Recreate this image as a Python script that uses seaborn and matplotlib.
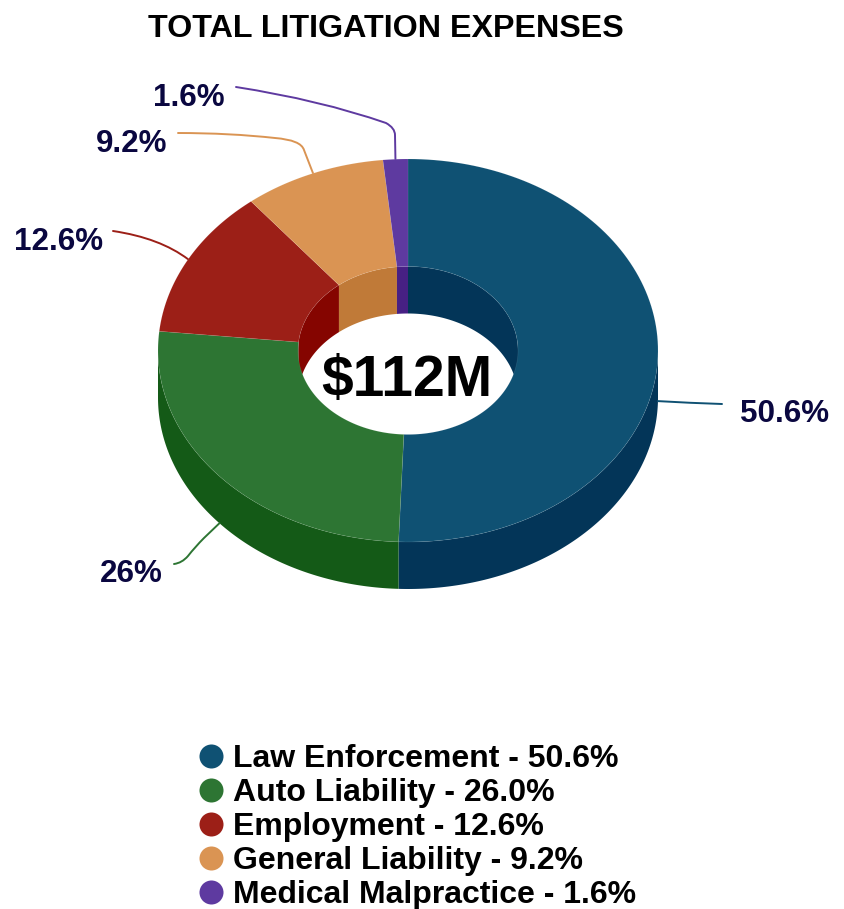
import numpy as np
import matplotlib
matplotlib.use('Agg')
import matplotlib.pyplot as plt
import seaborn as sns
from matplotlib.lines import Line2D
from matplotlib.patches import PathPatch, Polygon
from matplotlib.path import Path

# chart data
categories = ['Law Enforcement', 'Auto Liability', 'Employment', 'General Liability', 'Medical Malpractice']
shares = [50.6, 26.0, 12.6, 9.2, 1.6]
slice_labels = ['50.6%', '26%', '12.6%', '9.2%', '1.6%']
legend_values = ['50.6%', '26.0%', '12.6%', '9.2%', '1.6%']
total_label = '$112M'
chart_title = 'TOTAL LITIGATION EXPENSES'

top_colors = ['#0F5173', '#2D7533', '#9C1F17', '#DA9453', '#5E3AA0']
wall_colors = ['#033558', '#145A17', '#850500', '#C07A38', '#472084']
text_navy = '#0A0740'

# donut geometry, in pixels of the picture
cx, cy = 408, 350.5
outer_rx, outer_ry = 250, 191.5
inner_rx, inner_ry = 110, 84
depth = 47

# where the outside labels sit (right/left aligned anchor)
label_pos = [(740, 414, 'left'), (163, 574, 'right'), (103, 241.5, 'right'),
             (167, 144.5, 'right'), (225, 97.5, 'right')]

# leader line pieces after the anchor point: (code, x, y)
L, C = Path.LINETO, Path.CURVE3
leader_steps = [
    [(C, 690, 403), (C, 722, 404)],
    [(L, 204, 538), (C, 195, 547), (C, 188, 556), (C, 182, 563), (C, 174, 564)],
    [(C, 160, 238), (C, 113, 231)],
    [(L, 304, 150), (C, 301, 140), (C, 275, 138), (C, 230, 133), (C, 178, 133)],
    [(L, 395, 135), (C, 395, 128), (C, 386, 123), (C, 320, 100), (C, 236, 87)],
]

sns.set_theme(style='white')
plt.rcParams['font.family'] = ['Liberation Sans', 'DejaVu Sans']
plt.rcParams['font.weight'] = 'bold'
palette = sns.color_palette(top_colors)


def rim(theta, rx, ry, drop=0):
    return np.column_stack([cx + rx * np.sin(theta), cy + drop - ry * np.cos(theta)])


def band(t0, t1, rx0, ry0, drop0, rx1, ry1, drop1):
    t = np.linspace(t0, t1, 120)
    return np.vstack([rim(t, rx0, ry0, drop0), rim(t[::-1], rx1, ry1, drop1)])


fig, ax = plt.subplots(figsize=(8.45, 9.09), dpi=100)
fig.subplots_adjust(left=0, right=1, bottom=0, top=1)
ax.set_xlim(0, 845)
ax.set_ylim(909, 0)
ax.axis('off')

edges = np.cumsum([0] + shares) / 100 * 2 * np.pi
seam = (1, 1, 1, 0.1)

# outside wall, front half only
for i in range(len(shares)):
    t0, t1 = max(edges[i], np.pi / 2), min(edges[i + 1], 3 * np.pi / 2)
    if t1 > t0:
        ax.add_patch(Polygon(band(t0, t1, outer_rx, outer_ry, 0, outer_rx, outer_ry, depth),
                             facecolor=wall_colors[i], edgecolor='none', zorder=1))

# inside wall of the hole, back half only
for i in range(len(shares)):
    for lo, hi in [(0, np.pi / 2), (3 * np.pi / 2, 2 * np.pi)]:
        t0, t1 = max(edges[i], lo), min(edges[i + 1], hi)
        if t1 > t0:
            ax.add_patch(Polygon(band(t0, t1, inner_rx, inner_ry, 0, inner_rx, inner_ry, depth),
                                 facecolor=wall_colors[i], edgecolor='none', zorder=2))

# top face
for i in range(len(shares)):
    ax.add_patch(Polygon(band(edges[i], edges[i + 1], outer_rx, outer_ry, 0, inner_rx, inner_ry, 0),
                         facecolor=palette[i], edgecolor=seam, linewidth=0.5, zorder=3))

# leaders and outside labels
for i, steps in enumerate(leader_steps):
    mid = (edges[i] + edges[i + 1]) / 2
    drop = depth if np.pi / 2 < mid < 3 * np.pi / 2 else 0
    start = rim(np.array([mid]), outer_rx, outer_ry, drop)[0]
    verts = [tuple(start)] + [(x, y) for _, x, y in steps]
    codes = [Path.MOVETO] + [c for c, _, _ in steps]
    ax.add_patch(PathPatch(Path(verts, codes), facecolor='none', edgecolor=palette[i],
                           linewidth=1.4, capstyle='round', zorder=2))
    x, y, ha = label_pos[i]
    ax.text(x, y, slice_labels[i], ha=ha, va='center', fontsize=22.6, color=text_navy, zorder=5)

ax.text(cx - 1, 381, total_label, ha='center', va='center', fontsize=41, color='black', zorder=5)
ax.text(386, 29, chart_title, ha='center', va='center', fontsize=23.2, color='black')

handles = [Line2D([], [], linestyle='none', marker='o', markersize=17.3,
                  markerfacecolor=c, markeredgecolor='none') for c in palette]
labels = [f'{c} - {v}' for c, v in zip(categories, legend_values)]
ax.legend(handles, labels, loc='upper left', bbox_to_anchor=(198, 744), bbox_transform=ax.transData,
          frameon=False, fontsize=23, labelspacing=0.125, handletextpad=0.3, handlelength=0.8,
          borderpad=0, borderaxespad=0, labelcolor='black')

fig.savefig('out.png', dpi=100)
